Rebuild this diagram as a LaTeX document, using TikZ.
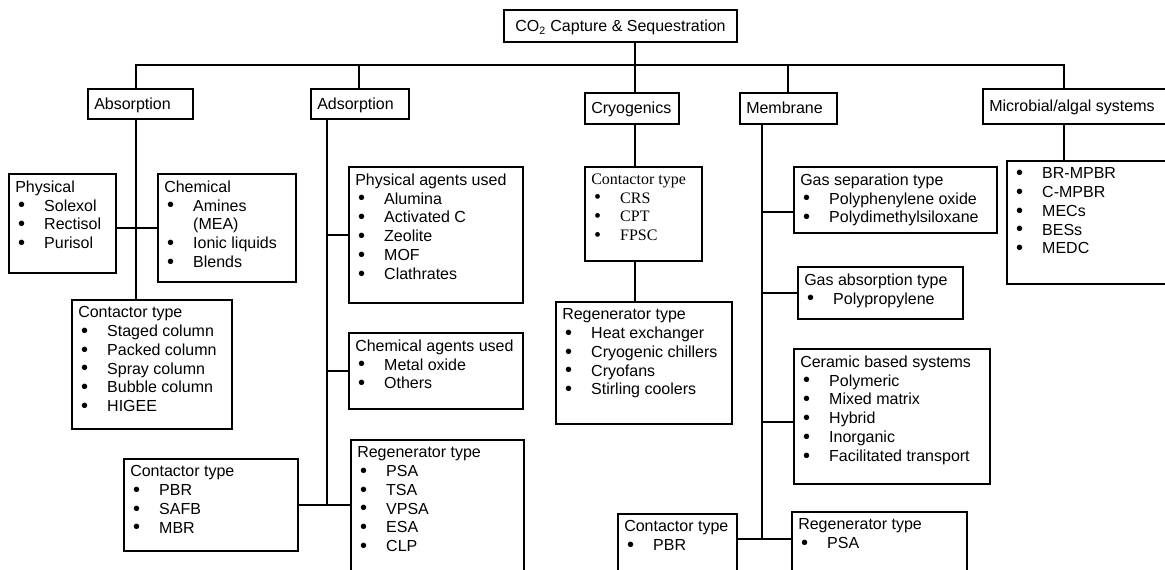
\documentclass[tikz,border=0pt]{standalone}
\usepackage{fontspec}
\setmainfont{Liberation Sans}
\newfontfamily\timesfont{Liberation Serif}
\usetikzlibrary{fit}

\tikzset{
  box/.style={draw, line width=1.5pt, inner sep=0pt},
  boxtext/.style={anchor=north west, inner sep=0pt, align=left},
  cattext/.style={anchor=base west, inner sep=0pt},
  link/.style={line width=1.5pt},
  serifbox/.style={font=\timesfont\fontsize{12}{14.1}\selectfont}
}

\begin{document}
\begin{tikzpicture}[x=0.75pt, y=-0.75pt, font=\fontsize{12}{14.1}\selectfont]
    \newcommand{\itm}[1]{\hspace*{2.2pt}\makebox[19.5pt][l]{\raisebox{-0.6pt}{\scalebox{1.25}{\textbullet}}}#1}
    \newcommand{\catbox}[4]{
        \node[box, fit={#2 #3}] (#1) {};
        \node[cattext] (#1-t) at ([xshift=5.25pt, yshift=-3.8pt]#1.west) {#4};
    }
    \newcommand{\listbox}[5][]{
        \node[box, fit={#3 #4}] (#2) {};
        \node[boxtext, #1] (#2-t) at ([xshift=5.25pt, yshift=-5.5pt]#2.north west) {#5};
    }
\useasboundingbox (0,0) rectangle (1165,569);

% top and first level
\node[box, fit={(504,10) (737,42)}] (root) {};
\node[anchor=base, inner sep=0pt] (root-t) at ([yshift=-4.2pt]root.center) {CO\textsubscript{2} Capture \& Sequestration};
\catbox{abs}{(88,89)}{(193,119)}{Absorption}
\catbox{ads}{(311,89)}{(409,119)}{Adsorption}
\catbox{cryo}{(585,93)}{(679,124)}{Cryogenics}
\catbox{mem}{(740,93)}{(837,124)}{Membrane}
\catbox{mic}{(983,89)}{(1180,124)}{Microbial/algal systems}

% absorption
\listbox{phys}{(9,174)}{(116,273)}{Physical\\\itm{Solexol}\\\itm{Rectisol}\\\itm{Purisol}}
\listbox{chem}{(158,174)}{(296,282)}{Chemical\\\itm{Amines}\\\hspace*{21.7pt}(MEA)\\\itm{Ionic liquids}\\\itm{Blends}}
\listbox{abscont}{(72,300)}{(232,429)}{Contactor type\\\itm{Staged column}\\\itm{Packed column}\\\itm{Spray column}\\\itm{Bubble column}\\\itm{HIGEE}}

% adsorption
\listbox{physag}{(349,167)}{(523,303)}{Physical agents used\\\itm{Alumina}\\\itm{Activated C}\\\itm{Zeolite}\\\itm{MOF}\\\itm{Clathrates}}
\listbox{chemag}{(349,333)}{(523,409)}{Chemical agents used\\\itm{Metal oxide}\\\itm{Others}}
\listbox{adscont}{(124,459)}{(298,551)}{Contactor type\\\itm{PBR}\\\itm{SAFB}\\\itm{MBR}}
\listbox{adsreg}{(351,440)}{(524,590)}{Regenerator type\\\itm{PSA}\\\itm{TSA}\\\itm{VPSA}\\\itm{ESA}\\\itm{CLP}}

% cryogenics
\listbox[serifbox]{cryocont}{(585,167)}{(702,261)}{Contactor type\\\itm{CRS}\\\itm{CPT}\\\itm{FPSC}}
\listbox{cryoreg}{(556,302)}{(732,424)}{Regenerator type\\\itm{Heat exchanger}\\\itm{Cryogenic chillers}\\\itm{Cryofans}\\\itm{Stirling coolers}}

% membrane
\listbox{gassep}{(794,167)}{(997,233)}{Gas separation type\\\itm{Polyphenylene oxide}\\\itm{Polydimethylsiloxane}}
\listbox{gasabs}{(798,267)}{(963,319)}{Gas absorption type\\\itm{Polypropylene}}
\listbox{ceramic}{(794,349)}{(990,484)}{Ceramic based systems\\\itm{Polymeric}\\\itm{Mixed matrix}\\\itm{Hybrid}\\\itm{Inorganic}\\\itm{Facilitated transport}}
\listbox{memcont}{(618,514)}{(737,590)}{Contactor type\\\itm{PBR}}
\listbox{memreg}{(792,512)}{(967,590)}{Regenerator type\\\itm{PSA}}

% microbial
\listbox{miclist}{(1007,161)}{(1180,284)}{\itm{BR-MPBR}\\\itm{C-MPBR}\\\itm{MECs}\\\itm{BESs}\\\itm{MEDC}}

% trunks and bus
\coordinate (busY) at (0,65);
\coordinate (absX) at (136,0);
\coordinate (adsD) at (359,0);
\coordinate (adsX) at (327,0);
\coordinate (cryoX) at (635,0);
\coordinate (memD) at (788,0);
\coordinate (memX) at (762,0);
\coordinate (micX) at (1064,0);
\coordinate (memY) at (0,539);

\draw[link] (abs.north -| absX) -- (busY -| absX) -- (busY -| micX) -- (mic.north -| micX);
\draw[link] (root.south -| cryoX) -- (cryo.north -| cryoX);
\foreach \n/\c in {ads/adsD, mem/memD}
    \draw[link] (busY -| \c) -- (\n.north -| \c);

\draw[link] (abs.south -| absX) -- (abscont.north -| absX);
\draw[link] (phys.east |- chem.west) -- (chem.west);

\draw[link] (ads.south -| adsX) -- (adscont.east -| adsX);
\foreach \n in {physag, chemag}
    \draw[link] (\n.west -| adsX) -- (\n.west);
\draw[link] (adscont.east) -- (adscont.east -| adsreg.west);

\draw[link] (cryo.south -| cryoX) -- (cryocont.north -| cryoX);
\draw[link] (cryocont.south -| cryoX) -- (cryoreg.north -| cryoX);

\draw[link] (mem.south -| memX) -- (memY -| memX);
\foreach \n/\s in {gassep/-9pt, gasabs/0pt, ceramic/-4pt}
    \draw[link] ([yshift=\s]\n.west -| memX) -- ([yshift=\s]\n.west);
\draw[link] (memcont.east |- memY) -- (memreg.west |- memY);

\draw[link] (mic.south -| micX) -- (miclist.north -| micX);

\end{tikzpicture}
\end{document}
